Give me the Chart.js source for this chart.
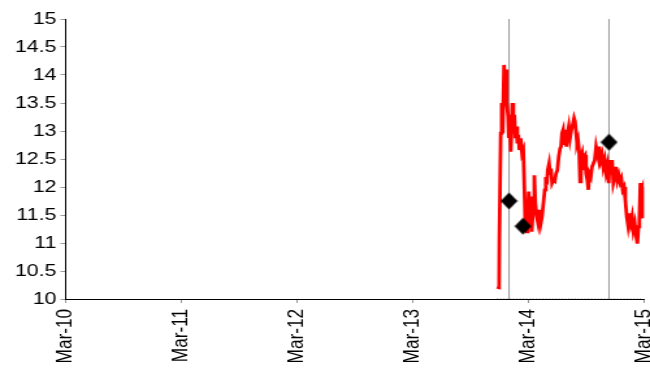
<!DOCTYPE html>
<html><head><meta charset="utf-8">
<script src="https://cdn.jsdelivr.net/npm/chart.js@4.4.1/dist/chart.umd.min.js"></script>
<style>
html,body{margin:0;padding:0;background:#fff;overflow:hidden}
#c{display:block;transform:scaleX(1.3);transform-origin:0 0}
</style>
</head><body>
<canvas id="c" width="500" height="371" style="width:500px;height:371px"></canvas>
<script>
// x values are months since Mar-2010
const tickLabels = ['Mar-10','Mar-11','Mar-12','Mar-13','Mar-14','Mar-15'];
const seriesX = [44.74,44.98,45.01,45.15,45.25,45.36,45.49,45.60,45.70,45.77,45.91,45.98,46.04,46.19,46.29,46.35,46.46,46.56,46.67,46.77,46.87,46.98,47.08,47.22,47.36,47.49,47.64,47.70,47.85,47.95,48.05,48.16,48.26,48.36,48.53,48.63,48.74,48.88,49.02,49.15,49.30,49.43,49.57,49.71,49.82,49.92,50.02,50.16,50.26,50.36,50.47,50.60,50.75,50.88,51.02,51.16,51.30,51.40,51.50,51.61,51.71,51.85,51.95,52.05,52.20,52.33,52.47,52.61,52.75,52.85,52.96,53.06,53.16,53.27,53.37,53.47,53.58,53.68,53.78,53.89,53.99,54.13,54.23,54.33,54.48,54.61,54.75,54.89,55.03,55.16,55.27,55.37,55.51,55.65,55.78,55.93,56.06,56.20,56.34,56.45,56.55,56.69,56.82,56.97,57.10,57.24,57.38,57.52,57.65,57.79,57.93,58.06,58.21,58.34,58.48,58.62,58.76,58.89,59.04,59.17,59.31,59.42,59.52,59.62,59.72,59.83,59.90];
const seriesY = [10.21,10.20,11.02,12.96,13.50,12.96,14.18,13.90,14.10,13.50,13.26,12.90,13.29,12.63,13.08,13.50,13.02,13.29,12.87,13.08,12.78,12.93,12.66,12.87,12.60,12.66,11.71,11.29,11.20,11.50,11.92,11.35,11.83,11.20,11.65,12.21,11.71,11.47,11.35,11.59,11.35,11.47,11.71,11.95,12.18,12.04,12.30,12.42,12.24,12.33,12.07,12.12,12.10,12.24,12.30,12.54,12.69,12.72,12.96,13.02,12.75,13.02,12.72,12.93,13.08,12.87,13.02,13.11,13.23,13.17,12.96,12.78,12.84,12.66,12.09,12.54,12.60,12.30,12.54,12.57,12.24,12.12,11.95,12.24,12.18,12.36,12.42,12.48,12.72,12.60,12.51,12.72,12.48,12.57,12.36,12.48,12.27,12.39,12.07,12.48,12.30,12.48,12.07,12.18,12.36,12.12,12.21,12.09,12.15,11.95,12.00,11.77,11.47,11.32,11.53,11.35,11.47,11.23,11.35,11.14,10.99,11.29,11.41,12.07,11.95,12.00,11.44];
const markerDates = [46.01, 56.37];
const diamondX = [46.01, 47.46, 56.37];
const diamondY = [11.75, 11.30, 12.80];
const baselineX = [44.74, 59.90];
const baselineY = [10, 10];
const yMin = 10, yMax = 15;

// diamond marker image (compensates horizontal stretch)
const dm = document.createElement('canvas');
dm.width = 14; dm.height = 18;
const dctx = dm.getContext('2d');
dctx.fillStyle = '#000';
dctx.beginPath();
dctx.moveTo(7, 0.5); dctx.lineTo(13.5, 9); dctx.lineTo(7, 17.5); dctx.lineTo(0.5, 9);
dctx.closePath(); dctx.fill();

const toPts = (xs, ys) => xs.map((x, i) => ({x, y: ys[i]}));
const yFont = {family: "'Liberation Sans', Arial, sans-serif", size: 16.5};
const xFont = {family: "'Liberation Sans', Arial, sans-serif", size: 17.2};

const datasets = [
  {data: toPts(diamondX, diamondY), showLine: false, pointStyle: dm, pointRadius: 8, borderWidth: 0},
  {data: toPts(seriesX, seriesY), borderColor: '#ff0000', borderWidth: 2.8, pointRadius: 0, tension: 0, fill: false},
  ...markerDates.map(d => ({data: [{x: d, y: yMin}, {x: d, y: yMax}], borderColor: '#999', borderWidth: 1, pointRadius: 0})),
  {data: toPts(baselineX, baselineY), borderColor: '#777', borderWidth: 1, borderDash: [1, 1.5], pointRadius: 0}
];

new Chart(document.getElementById('c'), {
  type: 'line',
  data: {datasets},
  options: {
    responsive: false,
    devicePixelRatio: 1,
    animation: false,
    layout: {autoPadding: false, padding: {left: 0, right: 4.6, top: 19, bottom: 0}},
    plugins: {legend: {display: false}, tooltip: {enabled: false}},
    scales: {
      x: {
        type: 'linear', min: 0, max: 60,
        afterFit: s => { s.height = 72; s.paddingLeft = 0; s.paddingRight = 0; },
        border: {display: true, color: '#000', width: 1},
        grid: {display: true, drawOnChartArea: false, drawTicks: true, tickLength: 4, color: '#999'},
        ticks: {stepSize: 12, autoSkip: false, maxRotation: 90, minRotation: 90, padding: 6, color: '#000', font: xFont,
          callback: v => tickLabels[Math.round(v / 12)] ?? ''}
      },
      y: {
        min: yMin, max: yMax,
        afterFit: s => { s.width = 50; s.paddingTop = 0; s.paddingBottom = 0; },
        border: {display: true, color: '#000', width: 1},
        grid: {display: true, drawOnChartArea: false, drawTicks: true, tickLength: 3.5, color: '#999'},
        ticks: {stepSize: 0.5, padding: 3, color: '#000', font: yFont, callback: v => String(v)}
      }
    }
  }
});
</script>
</body></html>
